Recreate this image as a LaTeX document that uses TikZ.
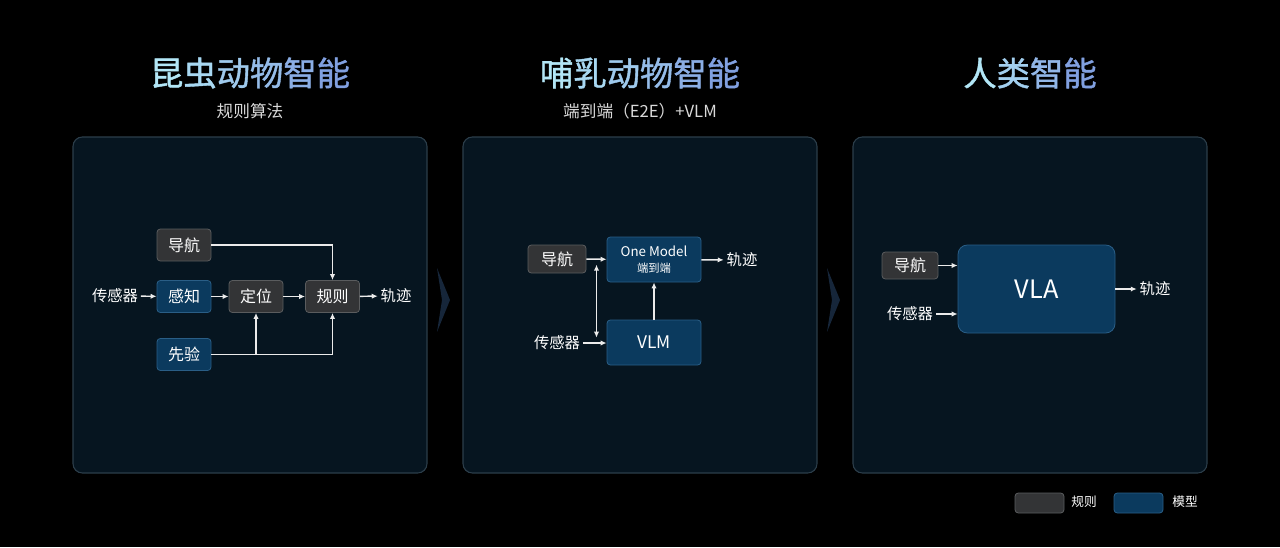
\documentclass[tikz,border=0pt]{standalone}
\usepackage{fontspec}
\setmainfont{Noto Sans CJK SC}
\newfontfamily\titlefont[FakeBold=1.2]{Noto Sans CJK SC}
\usepackage{xcolor}
\usetikzlibrary{arrows.meta,calc}
\definecolor{page-bg}{HTML}{000000}
\definecolor{panel-fill}{HTML}{061520}
\definecolor{panel-line}{HTML}{2C3E4A}
\definecolor{rule-fill}{HTML}{333436}
\definecolor{rule-line}{HTML}{5A5C5E}
\definecolor{model-fill}{HTML}{0B3A5E}
\definecolor{model-line}{HTML}{2A5E86}
\definecolor{title-a}{HTML}{B2E6F6}
\definecolor{title-b}{HTML}{7C98DE}
\definecolor{chevron-fill}{HTML}{16263A}
\newcommand{\gc}[2]{{\color{title-a!#1!title-b}#2}}
\tikzset{
    panel-box/.style = {draw=panel-line, fill=panel-fill, line width=0.8pt, rectangle, rounded corners=7pt, minimum width=265.5pt, minimum height=252pt, inner sep=0pt},
    rule-box/.style = {draw=rule-line, fill=rule-fill, line width=0.6pt, rectangle, rounded corners=2.5pt, minimum width=40.5pt, minimum height=24pt, inner sep=0pt, text=white, font=\fontsize{12}{14}\selectfont},
    model-box/.style = {rule-box, draw=model-line, fill=model-fill},
    plain-label/.style = {text=white, font=\fontsize{11.5}{14}\selectfont, inner sep=2pt},
    flow/.style = {draw=white!92!black, line width=1.1pt, -{Latex[length=4.5pt,width=4pt]}},
    title-text/.style = {font=\fontsize{25}{30}\titlefont},
    subtitle-text/.style = {text=white!85!black, font=\fontsize{12.5}{15}\selectfont},
}

\begin{document}
\begin{tikzpicture}[x=0.75pt, y=-0.75pt]
\useasboundingbox (0,0) rectangle (1280,547);
\fill[page-bg] (0,0) rectangle (1280,547);

% titles
\node[title-text] (title-a) at (250,73) {\gc{100}{昆}\gc{82}{虫}\gc{64}{动}\gc{46}{物}\gc{28}{智}\gc{10}{能}};
\node[subtitle-text] (sub-a) at (250,111) {规则算法};
\node[title-text] (title-b) at (640,73) {\gc{100}{哺}\gc{82}{乳}\gc{64}{动}\gc{46}{物}\gc{28}{智}\gc{10}{能}};
\node[subtitle-text] (sub-b) at (640,111) {端到端（E2E）+VLM};
\node[title-text] (title-c) at (1030,73) {\gc{100}{人}\gc{70}{类}\gc{40}{智}\gc{10}{能}};

% panels
\node[panel-box] (panel-a) at (250,305) {};
\node[panel-box] (panel-b) at (640,305) {};
\node[panel-box] (panel-c) at (1030,305) {};
\foreach \dx in {0,390}
    \fill[chevron-fill] (437+\dx,268) -- (450+\dx,300) -- (437+\dx,332) -- (442+\dx,300) -- cycle;

% rule algorithm
\node[rule-box] (nav-a) at (184,245) {导航};
\node[model-box] (percep-a) at (184,296.5) {感知};
\node[rule-box] (loc-a) at (256,296.5) {定位};
\node[rule-box] (rule-a) at (332.5,296.5) {规则};
\node[model-box] (prior-a) at (184,354.5) {先验};
\node[plain-label] (sensor-a) at (115,296) {传感器};
\node[plain-label] (track-a) at (396,296) {轨迹};
\draw[flow] (sensor-a) -- (percep-a);
\draw[flow] (percep-a) -- (loc-a);
\draw[flow] (loc-a) -- (rule-a);
\draw[flow] (rule-a) -- (track-a);
\draw[flow] (nav-a.east) -| (rule-a.north);
\draw[flow] (prior-a.east) -| (rule-a.south);
\draw[flow] (loc-a.south |- prior-a.east) -- (loc-a.south);

% end to end + VLM
\node[rule-box, minimum width=43.5pt, minimum height=21pt] (nav-b) at (557,259) {导航};
\node[model-box, minimum width=70.5pt, minimum height=33.75pt, align=center] (model-b) at (654,259.5) {\fontsize{10}{11}\selectfont One Model\\[-2pt]\fontsize{8.5}{10}\selectfont 端到端};
\node[model-box, minimum width=70.5pt, minimum height=33.75pt, font=\fontsize{13}{15}\selectfont] (vlm-b) at (654,342.5) {VLM};
\node[plain-label] (sensor-b) at (557,343) {传感器};
\node[plain-label] (track-b) at (742,260) {轨迹};
\draw[flow] (nav-b) -- (model-b);
\draw[flow] (model-b) -- (track-b);
\draw[flow] (sensor-b) -- (vlm-b.west |- sensor-b);
\draw[flow] (vlm-b) -- (model-b);
\coordinate (split-b) at ($(nav-b.east)!0.5!(model-b.west)$);
\draw[flow, {Latex[length=4.5pt,width=4pt]}-{Latex[length=4.5pt,width=4pt]}] ([yshift=-4pt]split-b) -- ([yshift=4pt]split-b |- sensor-b);

% VLA
\node[rule-box, minimum width=42pt, minimum height=20.25pt] (nav-c) at (910,265.5) {导航};
\node[model-box, minimum width=117.75pt, minimum height=66pt, rounded corners=7pt, font=\fontsize{19}{22}\selectfont] (vla-c) at (1036.5,289) {VLA};
\node[plain-label] (sensor-c) at (910,314) {传感器};
\node[plain-label] (track-c) at (1155,289) {轨迹};
\draw[flow] (nav-c.east) -- (nav-c.east -| vla-c.west);
\draw[flow] (sensor-c.east) -- (sensor-c.east -| vla-c.west);
\draw[flow] (vla-c) -- (track-c);

% legend
\node[rule-box, minimum width=36.75pt, minimum height=15pt] (leg-rule) at (1039.5,503) {};
\node[plain-label, font=\fontsize{9.5}{11}\selectfont] (leg-rule-text) at (1084,502) {规则};
\node[model-box, minimum width=36.75pt, minimum height=15pt] (leg-model) at (1138.5,503) {};
\node[plain-label, font=\fontsize{9.5}{11}\selectfont] (leg-model-text) at (1185,502) {模型};
\end{tikzpicture}
\end{document}
